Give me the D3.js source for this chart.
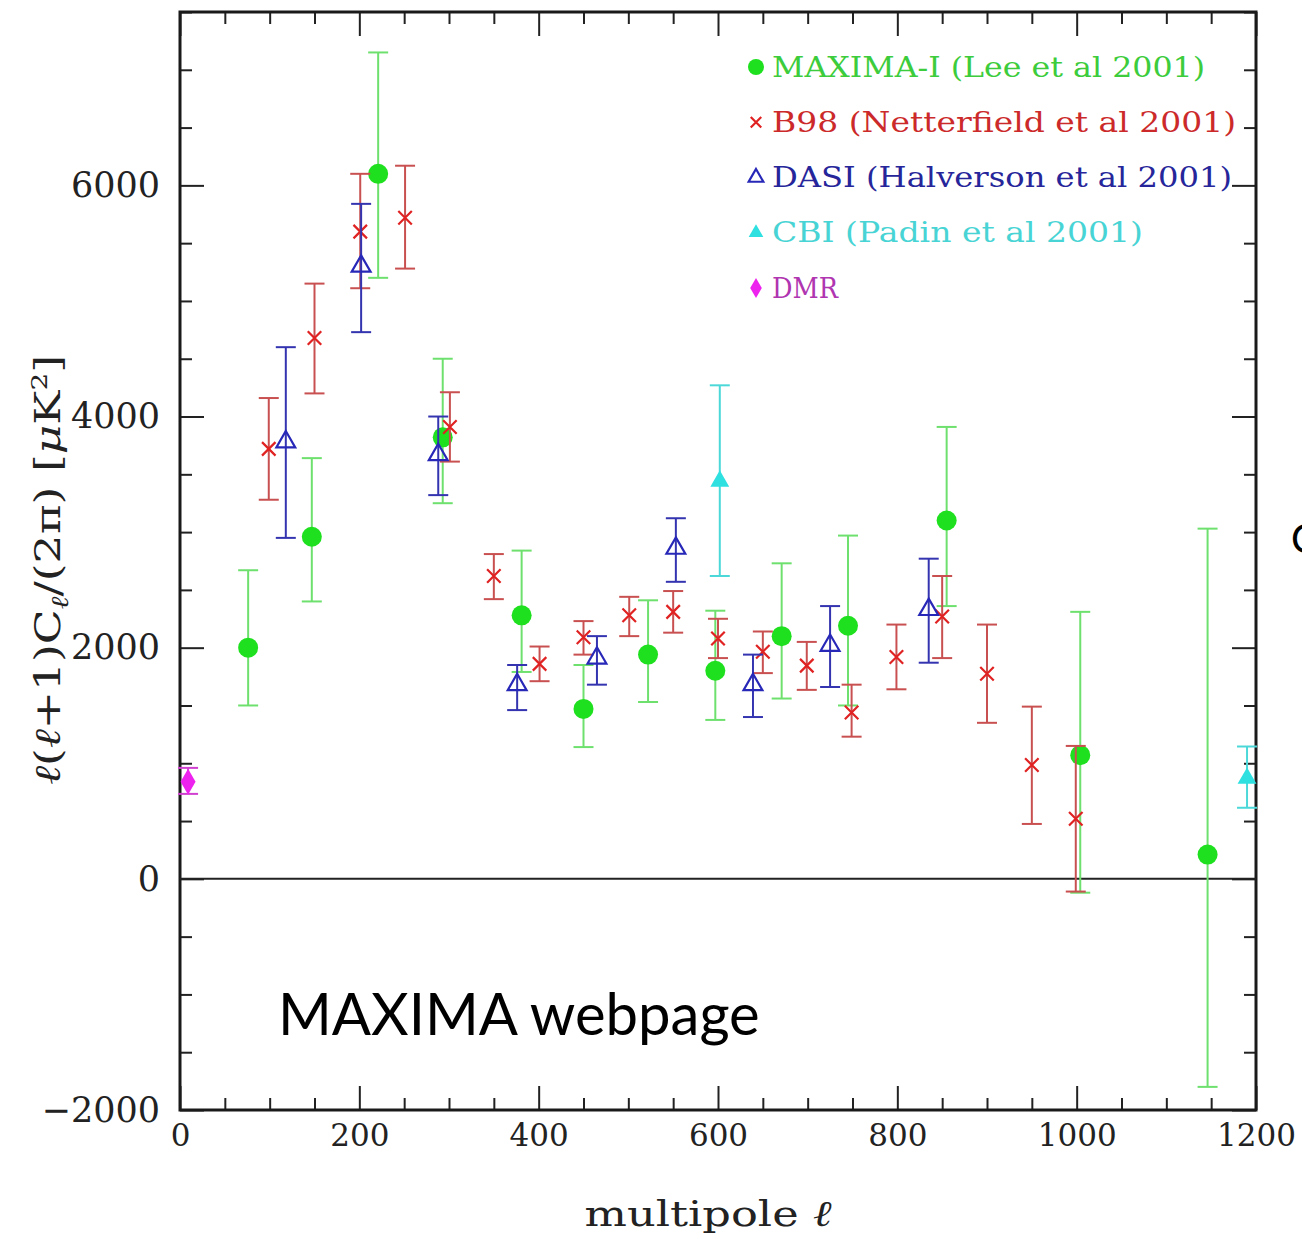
<!DOCTYPE html>
<html>
<head>
<meta charset="utf-8">
<script src="https://cdn.jsdelivr.net/npm/d3@7"></script>
<style>
  body { margin: 0; background: #fff; }
  .tick text { font-family: "DejaVu Serif", serif; fill: #222; }
</style>
</head>
<body>
<div id="chart"></div>
<script>
// multipole l, value, error low, error high
var maximaL    = [76, 147, 221, 293, 381, 450, 522, 597, 671, 745, 855, 1004, 1146],
    maximaV    = [2000, 2960, 6100, 3820, 2280, 1470, 1940, 1800, 2100, 2190, 3100, 1070, 210],
    maximaLo   = [1500, 2400, 5200, 3250, 1790, 1140, 1530, 1375, 1560, 1500, 2360, -120, -1800],
    maximaHi   = [2670, 3640, 7150, 4500, 2840, 1850, 2410, 2320, 2730, 2970, 3910, 2310, 3030];

var b98L  = [99, 150, 201, 251, 301, 350, 401, 450, 501, 550, 600, 650, 699, 749, 799, 850, 900, 950, 999],
    b98V  = [3720, 4680, 5600, 5720, 3910, 2620, 1860, 2090, 2280, 2310, 2080, 1965, 1845, 1440, 1920, 2270, 1775, 985, 520],
    b98Lo = [3280, 4200, 5110, 5280, 3610, 2420, 1710, 1940, 2100, 2130, 1910, 1780, 1635, 1230, 1640, 1910, 1350, 475, -110],
    b98Hi = [4160, 5150, 6100, 6170, 4210, 2810, 2010, 2230, 2440, 2490, 2250, 2140, 2050, 1680, 2200, 2620, 2200, 1490, 1150];

var dasiL  = [118, 202, 288, 376, 465, 553, 639, 725, 835],
    dasiV  = [3780, 5300, 3670, 1680, 1910, 2860, 1680, 2020, 2330],
    dasiLo = [2950, 4730, 3320, 1460, 1680, 2570, 1400, 1660, 1870],
    dasiHi = [4600, 5840, 4000, 1850, 2100, 3120, 1940, 2360, 2770];

var cbiL  = [602, 1190],
    cbiV  = [3440, 870],
    cbiLo = [2620, 615],
    cbiHi = [4270, 1145];

var dmrL  = [9],
    dmrV  = [840],
    dmrLo = [735],
    dmrHi = [960];

var legendLabels = ["MAXIMA-I (Lee et al 2001)", "B98 (Netterfield et al 2001)",
                    "DASI (Halverson et al 2001)", "CBI (Padin et al 2001)", "DMR"];

var xMajor = [0, 200, 400, 600, 800, 1000, 1200],
    yMajor = [-2000, 0, 2000, 4000, 6000];

var width = 1302, height = 1239;
var margin = {top: 12, right: 46, bottom: 129, left: 180},
    w = width - margin.left - margin.right,
    h = height - margin.top - margin.bottom;

// legend text widths in pixels (typewriter font in the original)
var legendWidths = [433, 464, 460, 371, 66];

var svg = d3.select("#chart").append("svg")
    .attr("width", width)
    .attr("height", height);

var g = svg.append("g").attr("transform", "translate(" + margin.left + "," + margin.top + ")");

var x = d3.scaleLinear().range([0, w]).domain([0, 1200]),
    y = d3.scaleLinear().range([h, 0]).domain([-2000, 7500]);

function rows(L, V, Lo, Hi) {
    return L.map(function(d, i) { return {l: d, v: V[i], lo: Lo[i], hi: Hi[i]}; });
}

var series = [
    {name: "maxima", data: rows(maximaL, maximaV, maximaLo, maximaHi), mark: "#1fe01f", bar: "#6ee06e", text: "#3ccc3c", shape: "circle"},
    {name: "b98", data: rows(b98L, b98V, b98Lo, b98Hi), mark: "#e02222", bar: "#c95050", text: "#cc2a2a", shape: "cross"},
    {name: "dasi", data: rows(dasiL, dasiV, dasiLo, dasiHi), mark: "#2828b8", bar: "#3434b0", text: "#26269a", shape: "opentri"},
    {name: "cbi", data: rows(cbiL, cbiV, cbiLo, cbiHi), mark: "#2ee0e0", bar: "#4cd8d8", text: "#48d4d4", shape: "tri"},
    {name: "dmr", data: rows(dmrL, dmrV, dmrLo, dmrHi), mark: "#ee22ee", bar: "#d040d0", text: "#b035b0", shape: "diamond"}
];

drawAxis();
drawData();
drawLegend();
drawLabels();

function drawAxis(){
    var minorX = d3.range(0, 1201, 50).filter(function(d){ return d % 200 != 0; }),
        minorY = d3.range(-2000, 7501, 500).filter(function(d){ return d % 2000 != 0; });

    // labelled bottom / left axes, ticks pointing inward
    g.append("g")
        .attr("transform", "translate(0," + h + ")")
        .call(d3.axisBottom(x).tickValues(xMajor).tickSize(-24).tickPadding(34).tickFormat(d3.format("d")))
        .call(function(a){ a.selectAll("text").attr("font-size", 31).attr("dy", "0.05em"); });
    g.append("g")
        .call(d3.axisLeft(y).tickValues(yMajor).tickSize(-24).tickPadding(20)
            .tickFormat(function(d){ return d < 0 ? "\u2212" + Math.abs(d) : d; }))
        .call(function(a){ a.selectAll("text").attr("font-size", 35); });

    g.append("g").attr("transform", "translate(0," + h + ")")
        .call(d3.axisBottom(x).tickValues(minorX).tickSize(-12).tickFormat(""));
    g.append("g")
        .call(d3.axisLeft(y).tickValues(minorY).tickSize(-12).tickFormat(""));

    // top and right axes
    g.append("g").call(d3.axisTop(x).tickValues(xMajor).tickSize(-24).tickFormat(""));
    g.append("g").call(d3.axisTop(x).tickValues(minorX).tickSize(-12).tickFormat(""));
    g.append("g").attr("transform", "translate(" + w + ",0)")
        .call(d3.axisRight(y).tickValues(yMajor).tickSize(-24).tickFormat(""));
    g.append("g").attr("transform", "translate(" + w + ",0)")
        .call(d3.axisRight(y).tickValues(minorY).tickSize(-12).tickFormat(""));

    g.selectAll(".domain").remove();
    g.selectAll(".tick line").attr("stroke", "#222").attr("stroke-width", 2);

    g.append("rect")
        .attr("width", w).attr("height", h)
        .attr("fill", "none").attr("stroke", "#1a1a1a").attr("stroke-width", 3);

    // zero line
    g.append("line")
        .attr("x1", 0).attr("x2", w)
        .attr("y1", y(0)).attr("y2", y(0))
        .attr("stroke", "#222").attr("stroke-width", 2);
}

function marker(sel, shape, color, s) {
    if (shape == "circle") {
        sel.append("circle").attr("r", s).attr("fill", color);
    } else if (shape == "cross") {
        var c = s * 0.75;
        sel.append("path").attr("d", "M" + (-c) + "," + (-c) + "L" + c + "," + c + "M" + (-c) + "," + c + "L" + c + "," + (-c))
            .attr("stroke", color).attr("stroke-width", 2.2).attr("fill", "none");
    } else if (shape == "opentri") {
        sel.append("path").attr("d", d3.symbol(d3.symbolTriangle, s * s * 1.9)())
            .attr("fill", "none").attr("stroke", color).attr("stroke-width", 2.2);
    } else if (shape == "tri") {
        sel.append("path").attr("d", d3.symbol(d3.symbolTriangle, s * s * 1.9)()).attr("fill", color);
    } else if (shape == "diamond") {
        sel.append("path").attr("d", d3.symbol(d3.symbolDiamond, s * s * 2.4)()).attr("fill", color);
    }
}

function drawData(){
    var cap = 10;
    series.forEach(function(s){
        var grp = g.append("g").attr("class", s.name);
        var pts = grp.selectAll("g.pt")
            .data(s.data)
            .enter().append("g")
            .attr("class", "pt");

        pts.append("line")
            .attr("x1", function(d){ return x(d.l); })
            .attr("x2", function(d){ return x(d.l); })
            .attr("y1", function(d){ return y(d.lo); })
            .attr("y2", function(d){ return y(d.hi); })
            .attr("stroke", s.bar).attr("stroke-width", 2);
        ["lo", "hi"].forEach(function(k){
            pts.append("line")
                .attr("x1", function(d){ return x(d.l) - cap; })
                .attr("x2", function(d){ return x(d.l) + cap; })
                .attr("y1", function(d){ return y(d[k]); })
                .attr("y2", function(d){ return y(d[k]); })
                .attr("stroke", s.bar).attr("stroke-width", 2);
        });

        pts.append("g")
            .attr("transform", function(d){ return "translate(" + x(d.l) + "," + y(d.v) + ")"; })
            .each(function(){
                var sz = s.shape == "circle" ? 10 : 9;
                marker(d3.select(this), s.shape, s.mark, sz);
            });
    });
}

function drawLegend(){
    var ly = d3.scalePoint().domain(legendLabels).range([67, 288]);
    var leg = svg.selectAll("g.legend")
        .data(series)
        .enter().append("g")
        .attr("class", "legend")
        .attr("transform", function(d, i){ return "translate(756," + ly(legendLabels[i]) + ")"; });

    leg.each(function(d){ marker(d3.select(this), d.shape, d.mark, d.shape == "circle" ? 8 : 7); });

    leg.append("text")
        .attr("x", 16)
        .attr("dy", "0.36em")
        .attr("font-family", "DejaVu Serif, serif")
        .attr("font-size", 27)
        .attr("fill", function(d){ return d.text; })
        .attr("textLength", function(d, i){ return legendWidths[i]; })
        .attr("lengthAdjust", "spacingAndGlyphs")
        .text(function(d, i){ return legendLabels[i]; });
}

function drawLabels(){
    svg.append("text")
        .attr("x", 708).attr("y", 1226)
        .attr("text-anchor", "middle")
        .attr("font-family", "DejaVu Serif, serif")
        .attr("font-size", 36)
        .attr("fill", "#222")
        .attr("textLength", 247)
        .attr("lengthAdjust", "spacingAndGlyphs")
        .html('multipole <tspan font-style="italic">\u2113</tspan>');

    var yl = svg.append("text")
        .attr("transform", "translate(60,570) rotate(-90)")
        .attr("text-anchor", "middle")
        .attr("font-family", "DejaVu Serif, serif")
        .attr("font-size", 36)
        .attr("fill", "#222")
        .attr("textLength", 430)
        .attr("lengthAdjust", "spacingAndGlyphs");
    yl.append("tspan").attr("font-style", "italic").text("\u2113");
    yl.append("tspan").text("(");
    yl.append("tspan").attr("font-style", "italic").text("\u2113");
    yl.append("tspan").text("+1)C");
    yl.append("tspan").attr("font-style", "italic").attr("font-size", 24).attr("dy", 8).text("\u2113");
    yl.append("tspan").attr("dy", -8).text("/(2\u03c0)  [");
    yl.append("tspan").attr("font-style", "italic").text("\u03bc");
    yl.append("tspan").text("K");
    yl.append("tspan").attr("font-size", 22).attr("dy", -13).text("2");
    yl.append("tspan").attr("dy", 13).text("]");

    svg.append("text")
        .attr("x", 278).attr("y", 1035)
        .attr("font-family", "Lato, sans-serif")
        .attr("font-size", 58)
        .attr("fill", "#000")
        .text("MAXIMA webpage");

    // clipped letter at the right edge of the slide
    svg.append("text")
        .attr("x", 1291).attr("y", 553)
        .attr("font-family", "Lato, sans-serif")
        .attr("font-size", 40)
        .attr("fill", "#000")
        .text("C");
}
</script>
</body>
</html>
